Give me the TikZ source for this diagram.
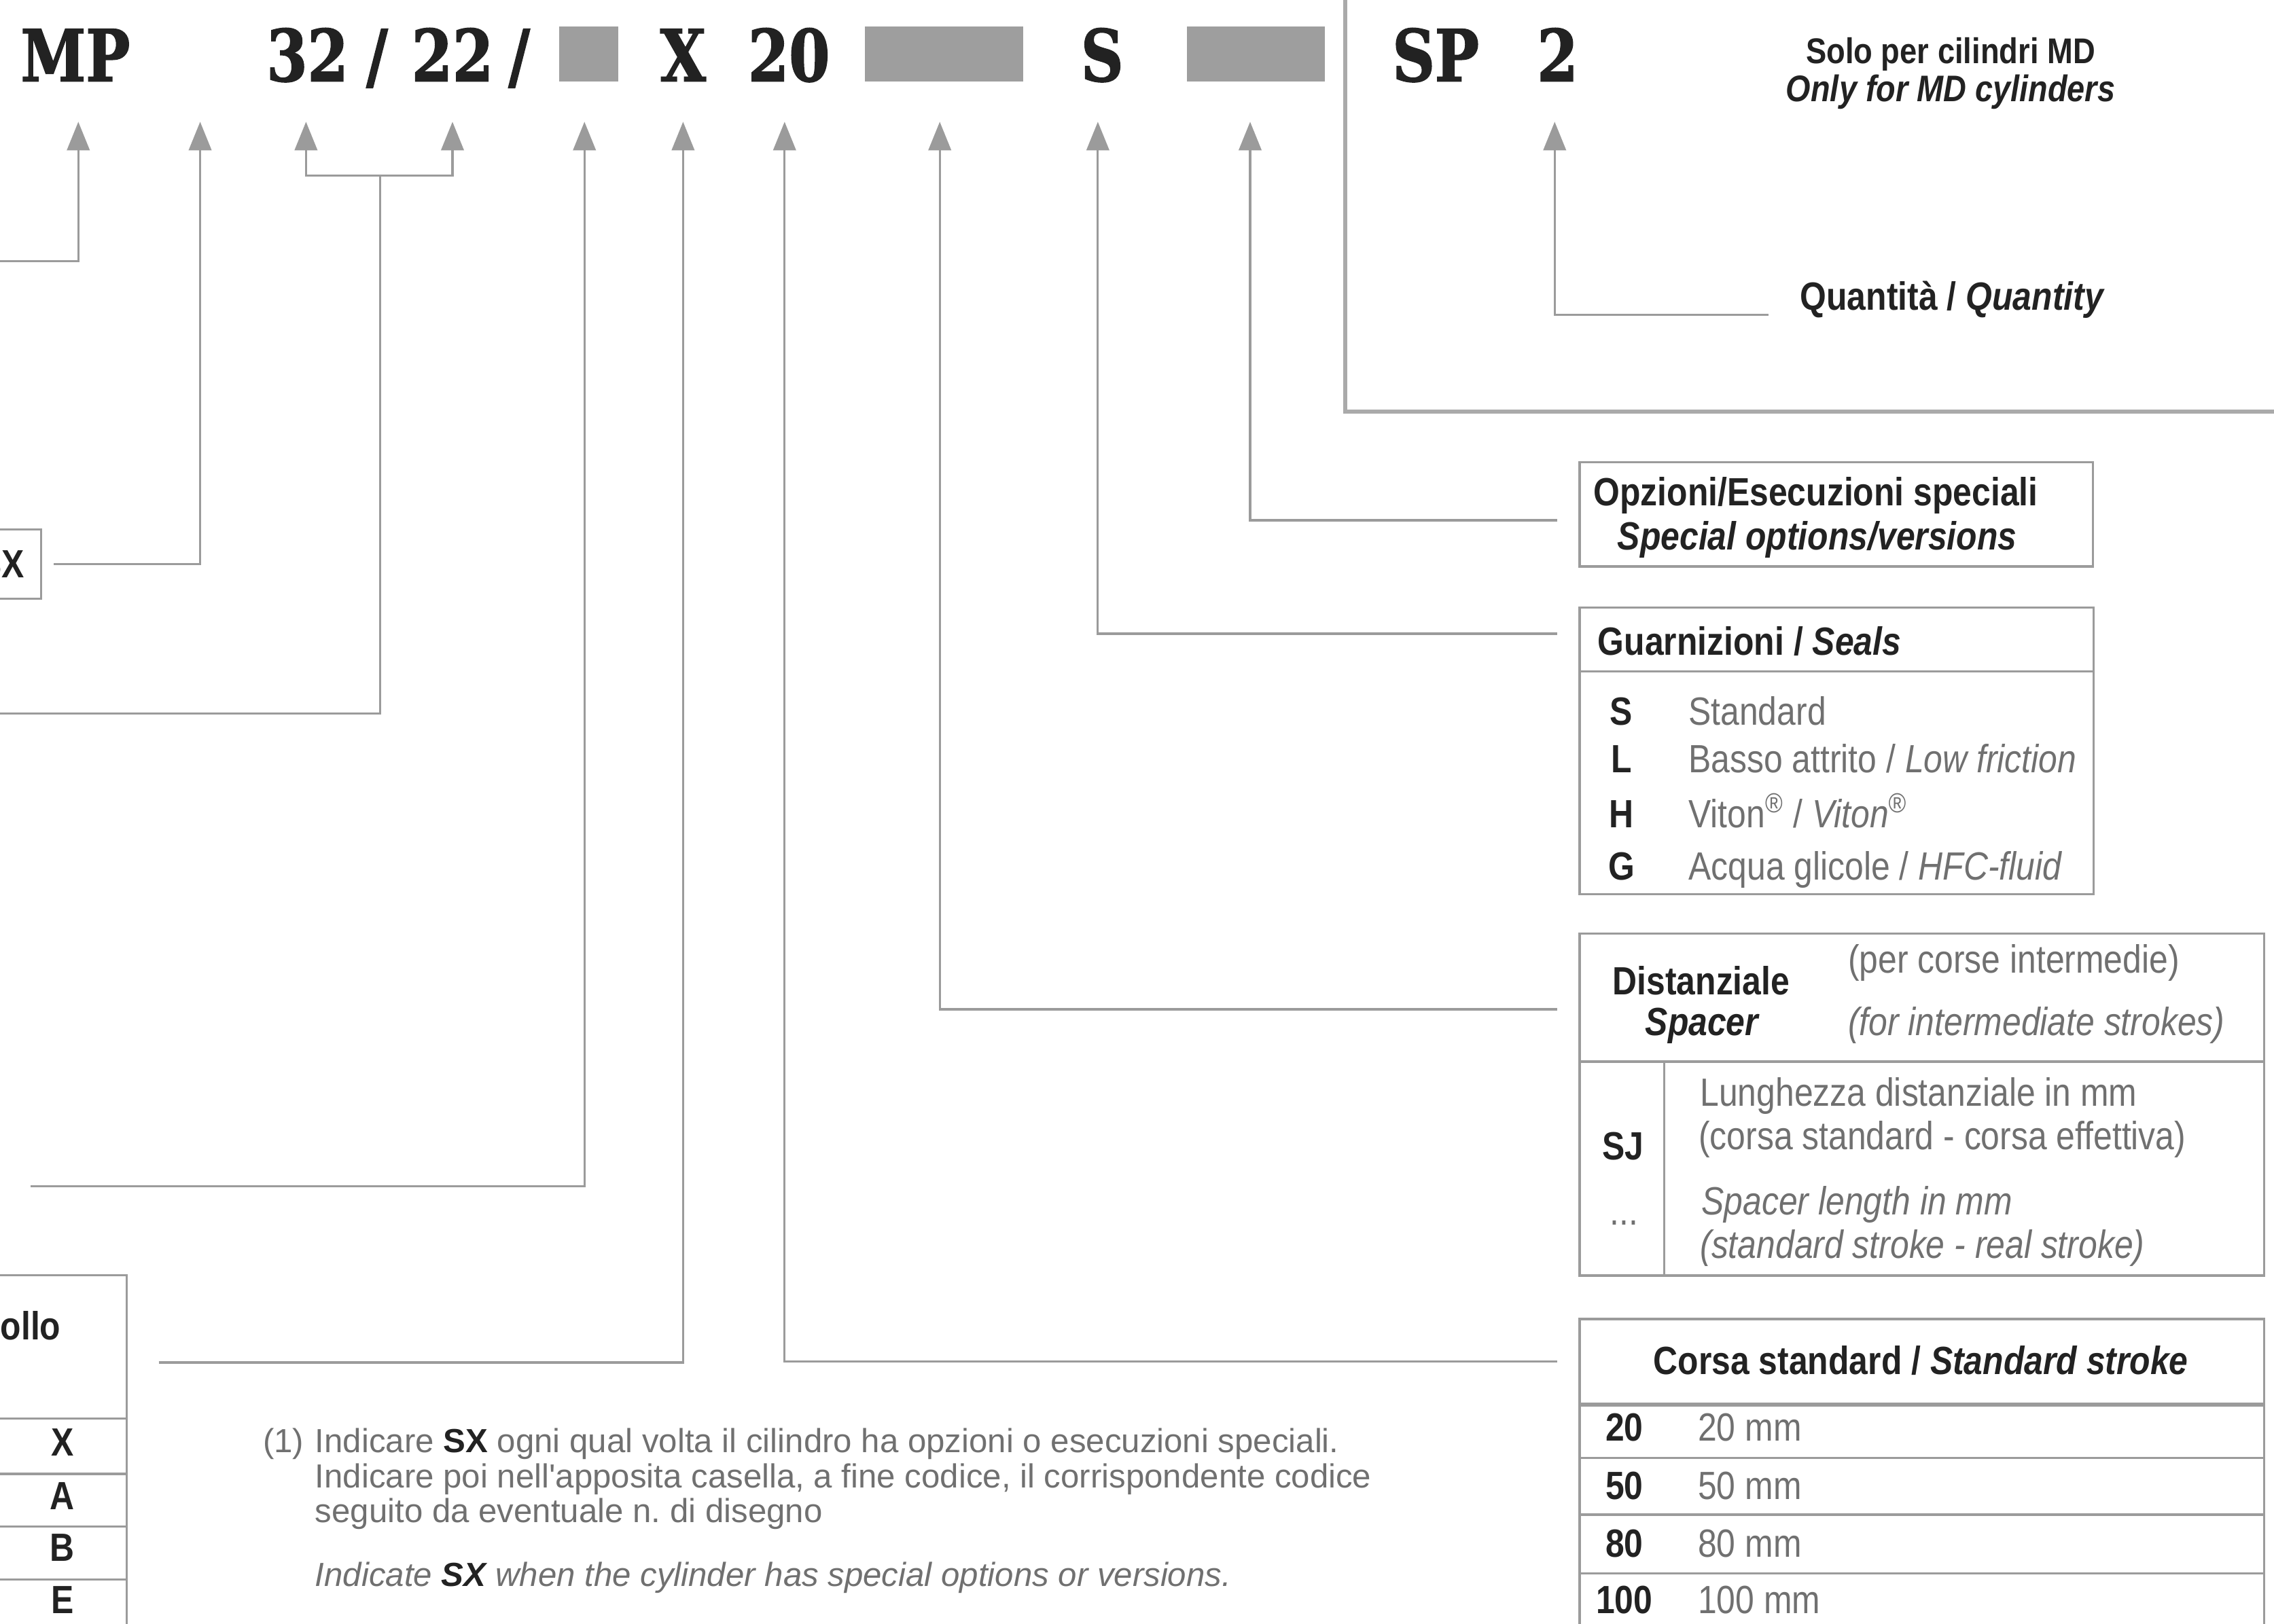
\documentclass[tikz,border=0pt]{standalone}
\usepackage{fontspec}
\setmainfont{Liberation Sans}[FakeStretch=0.86]
\newfontfamily\codefont{DejaVu Serif}[FakeStretch=0.82, FakeBold=1.5]
\newfontfamily\notefont{Liberation Sans}[FakeStretch=1.0]
\usepackage{xcolor}
\usetikzlibrary{arrows.meta,positioning}

\definecolor{linegray}{HTML}{9B9B9B}
\definecolor{slotgray}{HTML}{9E9E9E}
\definecolor{ink}{HTML}{222222}
\definecolor{softink}{HTML}{707070}
\newcommand\boxsize{\fontsize{16.5}{18}\selectfont}
\newcommand\notesize{\notefont\fontsize{14}{15}\selectfont}

\begin{document}
\begin{tikzpicture}[
        x=0.021346cm, y=-0.021346cm,
        conn/.style={draw=linegray, line width=0.9pt},
        arr/.style={conn, -{Triangle[length=12pt, width=9.5pt]}},
        tabframe/.style={draw=linegray, line width=0.9pt, inner sep=0pt, anchor=north west},
        codetxt/.style={font={\codefont\bfseries\fontsize{30}{30}\selectfont}, text=ink, inner sep=0pt, anchor=base},
        codeslot/.style={fill=slotgray, inner sep=0pt, minimum height=23pt, anchor=north west},
        headtxt/.style={font={\boxsize\bfseries}, text=ink, inner sep=0pt, anchor=base},
        desctxt/.style={font=\boxsize, text=softink, inner sep=0pt, anchor=base west},
        notetxt/.style={font=\notesize, text=softink, inner sep=0pt, anchor=base west}
    ]
        \useasboundingbox (0,0) rectangle (1568,1120);

        % order code
        \node[codetxt] (mp) at (52,56) {MP};
        \node[codetxt] (bore) at (212,56) {32};
        \node[codetxt] (slashA) at (260,56) {/};
        \node[codetxt] (rod) at (312,56) {22};
        \node[codetxt] (slashB) at (358,56) {/};
        \node[codeslot, minimum width=25pt] (mount) at (385,18) {};
        \node[codetxt] (xopt) at (471,56) {X};
        \node[codetxt] (stroke) at (544,56) {20};
        \node[codeslot, minimum width=66.2pt] (spcslot) at (596,18) {};
        \node[codetxt] (seal) at (760,56) {S};
        \node[codeslot, minimum width=57.7pt] (optslot) at (818,18) {};
        \node[codetxt] (sp) at (990,56) {SP};
        \node[codetxt] (qty) at (1074,56) {2};

        \foreach \nm/\xx in {mp/54, sx/138, bore/211, rod/312, mount/403, xopt/471, stroke/541, spc/648, seal/757, opt/862, qty/1072}
            \coordinate (tip-\nm) at (\xx,84);

        % spare parts frame
        \draw[conn, line width=1.6pt, draw=linegray!85] (927.7,-10) |- (1580,284);
        \node[headtxt, font={\fontsize{15}{16}\selectfont\bfseries}] (solo) at (1345,44) {Solo per cilindri MD};
        \node[headtxt, font={\fontsize{15.5}{16}\selectfont\bfseries\itshape}] (only) at (1345,70) {Only for MD cylinders};
        \node[headtxt, anchor=base west] (qlab) at (1241,214) {Quantità / \textit{Quantity}};

        % special options
        \node[tabframe, minimum width=215pt, minimum height=43.7pt] (opzbox) at (1088.5,318) {};
        \node[headtxt] (opzit) at (1252,349) {Opzioni/Esecuzioni speciali};
        \node[headtxt, font={\boxsize\bfseries\itshape}] (opzen) at (1253,379) {Special options/versions};

        % seals
        \node[tabframe, minimum width=215.3pt, minimum height=26.7pt] (sealhd) at (1088.5,418.5) {};
        \node[tabframe, minimum width=215.3pt, minimum height=93.2pt] (sealbody) at (1088.5,462.5) {};
        \node[headtxt, anchor=base west] (sealtxt) at (1101.5,452) {Guarnizioni / \textit{Seals}};
        \foreach \k/\d/\yy in {S/{Standard}/500, L/{Basso attrito / \textit{Low friction}}/533,
                H/{Viton\textsuperscript{®} / \textit{Viton\textsuperscript{®}}}/571, G/{Acqua glicole / \textit{HFC-fluid}}/607} {
            \node[headtxt] (seal-\k) at (1118,\yy) {\k};
            \node[desctxt] (sealdesc-\k) at (1164,\yy) {\d};
        }

        % spacer
        \node[tabframe, minimum width=286.6pt, minimum height=53.7pt] (dsthd) at (1088.5,643) {};
        \node[tabframe, minimum width=286.6pt, minimum height=89.6pt] (dstbody) at (1088.5,731.5) {};
        \draw[conn] (dstbody.north west) ++(59,0) -- ++(0,147.5);
        \node[headtxt] (dstit) at (1173,686) {Distanziale};
        \node[headtxt, font={\boxsize\bfseries\itshape}] (dsten) at (1173.5,714) {Spacer};
        \node[desctxt] (dstnoteit) at (1274,671) {(per corse intermedie)};
        \node[desctxt, font={\boxsize\itshape}] (dstnoteen) at (1274,714) {(for intermediate strokes)};
        \node[headtxt] (sjkey) at (1119,800) {SJ};
        \node[desctxt, anchor=base] (sjdots) at (1120,845) {...};
        \node[desctxt] (sjit1) at (1172,763) {Lunghezza distanziale in mm};
        \node[desctxt] (sjit2) at (1171,793) {(corsa standard - corsa effettiva)};
        \node[desctxt, font={\boxsize\itshape}] (sjen1) at (1173,838) {Spacer length in mm};
        \node[desctxt, font={\boxsize\itshape}] (sjen2) at (1172,868) {(standard stroke - real stroke)};

        % standard stroke
        \node[tabframe, minimum width=286.6pt, minimum height=35.5pt] (csthd) at (1088.5,909) {};
        \node[tabframe, minimum width=286.6pt, minimum height=116.9pt] (cstbody) at (1088.5,967.5) {};
        \draw[conn, line width=1.8pt] (csthd.south west) -- (csthd.south east);
        \node[headtxt] (csttxt) at (1324.5,948) {Corsa standard / \textit{Standard stroke}};
        \foreach \yy in {1005.6, 1044.7, 1085.3}
            \draw[conn] (1088.5,\yy) -- (1560.5,\yy);
        \foreach \v/\yy in {20/994, 50/1034, 80/1074, 100/1113} {
            \node[headtxt] (cst-\v) at (1120,\yy) {\v};
            \node[desctxt] (cstmm-\v) at (1170.5,\yy) {\v\ mm};
        }

        % left side, partly cut
        \node[draw=linegray, line width=0.9pt, font={\boxsize\bfseries}, text=ink, anchor=east,
            minimum height=29pt, inner xsep=7pt] (sxbox) at (29,389) {SX};
        \node[tabframe, anchor=north east, minimum width=72.9pt, minimum height=59.9pt] (ctrlhd) at (88,879) {};
        \node[tabframe, anchor=north east, minimum width=72.9pt, minimum height=110.8pt] (ctrlbody) at (88,977.6) {};
        \node[headtxt, anchor=base west] (ctrltxt) at (0,924) {ollo};
        \foreach \yy in {1016.6, 1053, 1089.4}
            \draw[conn] (-10,\yy) -- (88,\yy);
        \foreach \k/\yy in {X/1004, A/1041, B/1077, E/1113}
            \node[headtxt] (ctrl-\k) at (43,\yy) {\k};

        % footnote
        \node[notetxt] (fnnum) at (181,1002) {(1)};
        \node[notetxt] (fn1) at (217,1002) {Indicare \textbf{\color{ink}SX} ogni qual volta il cilindro ha opzioni o esecuzioni speciali.};
        \node[notetxt] (fn2) at (217,1026) {Indicare poi nell'apposita casella, a fine codice, il corrispondente codice};
        \node[notetxt] (fn3) at (217,1050) {seguito da eventuale n.\ di disegno};
        \node[notetxt, font={\notesize\itshape}] (fn4) at (217,1094) {Indicate \textbf{\color{ink}SX} when the cylinder has special options or versions.};

        % connectors
        \coordinate (mpoff) at (-10,180);
        \coordinate (pair) at (262,121);
        \coordinate (pairoff) at (-10,492);
        \coordinate (mountend) at (21,818);
        \draw[arr] (mpoff) -| (tip-mp);
        \draw[arr, shorten <=5pt] (sxbox.east) -| (tip-sx);
        \draw[conn] (pairoff) -| (pair);
        \draw[arr] (pair) -| (tip-bore);
        \draw[arr] (pair) -| (tip-rod);
        \draw[arr] (mountend) -| (tip-mount);
        \draw[arr, shorten <=13pt] ([yshift=-6.5pt]ctrlhd.east) -| (tip-xopt);
        \draw[arr, shorten <=9pt] (csthd.west) -| (tip-stroke);
        \draw[arr, shorten <=9pt] ([yshift=-5pt]dsthd.west) -| (tip-spc);
        \draw[arr, shorten <=9pt] ([yshift=2.5pt]sealhd.west) -| (tip-seal);
        \draw[arr, shorten <=9pt] ([yshift=-2.5pt]opzbox.west) -| (tip-opt);
        \draw[arr, shorten <=13pt] ([yshift=-2pt]qlab.base west) -| (tip-qty);
    \end{tikzpicture}
\end{document}
